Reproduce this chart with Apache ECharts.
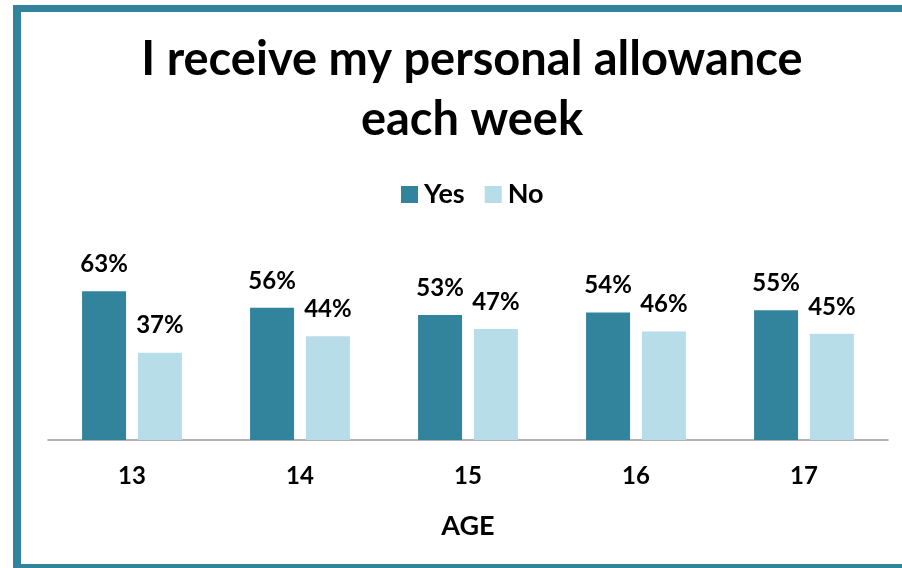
<!DOCTYPE html>
<html>
<head>
<meta charset="utf-8">
<script src="https://cdn.jsdelivr.net/npm/echarts@6/dist/echarts.min.js"></script>
<style>
  html, body { margin: 0; padding: 0; background: #fff; }
  #chart { width: 902px; height: 568px; }
</style>
</head>
<body>
<div id="chart"></div>
<script>
const categories = ['13', '14', '15', '16', '17'];
const yesValues = [63, 56, 53, 54, 55];
const noValues = [37, 44, 47, 46, 45];
const seriesNames = ['Yes', 'No'];
const titleText = 'I receive my personal allowance\neach week';
const axisName = 'AGE';

const FONT = 'Lato';
const chart = echarts.init(document.getElementById('chart'), null, { renderer: 'canvas' });

const labelStyle = {
  show: true,
  position: 'top',
  distance: 15,
  formatter: '{c}%',
  fontFamily: FONT,
  fontWeight: 'bold',
  fontSize: 24,
  color: '#000'
};

chart.setOption({
  backgroundColor: '#fff',
  animation: false,
  title: {
    text: titleText,
    left: 467,
    top: 25,
    textAlign: 'center',
    textStyle: {
      fontFamily: FONT,
      fontWeight: 'bold',
      fontSize: 47,
      lineHeight: 60,
      color: '#000'
    }
  },
  legend: {
    data: seriesNames,
    left: 396,
    top: 176,
    itemWidth: 17,
    itemHeight: 17,
    itemGap: 20,
    icon: 'rect',
    textStyle: {
      fontFamily: FONT,
      fontWeight: 'bold',
      fontSize: 27,
      color: '#000',
      padding: [0, 0, 0, 1]
    }
  },
  grid: {
    left: 48,
    right: 14,
    top: 204,
    bottom: 128,
    containLabel: false
  },
  xAxis: {
    type: 'category',
    data: categories,
    name: axisName,
    nameLocation: 'middle',
    nameGap: 73,
    nameTextStyle: {
      fontFamily: FONT,
      fontWeight: 'bold',
      fontSize: 27,
      color: '#000'
    },
    axisLine: { lineStyle: { color: '#9a9a9a', width: 1.5 } },
    axisTick: { show: false },
    axisLabel: {
      margin: 24,
      fontFamily: FONT,
      fontWeight: 'bold',
      fontSize: 24,
      color: '#000'
    }
  },
  yAxis: {
    type: 'value',
    min: 0,
    max: 100,
    show: false,
    splitLine: { show: false }
  },
  series: [
    {
      name: seriesNames[0],
      type: 'bar',
      data: yesValues,
      barWidth: 44,
      barGap: '27%',
      itemStyle: { color: '#31849B' },
      label: labelStyle
    },
    {
      name: seriesNames[1],
      type: 'bar',
      data: noValues,
      barWidth: 44,
      itemStyle: { color: '#B7DEE8' },
      label: labelStyle
    }
  ],
  graphic: [
    { type: 'rect', shape: { x: 13, y: 5, width: 889, height: 7 }, style: { fill: '#31849B' }, silent: true },
    { type: 'rect', shape: { x: 13, y: 5, width: 8, height: 563 }, style: { fill: '#31849B' }, silent: true },
    { type: 'rect', shape: { x: 13, y: 564, width: 889, height: 4 }, style: { fill: '#31849B' }, silent: true }
  ]
});
</script>
</body>
</html>
